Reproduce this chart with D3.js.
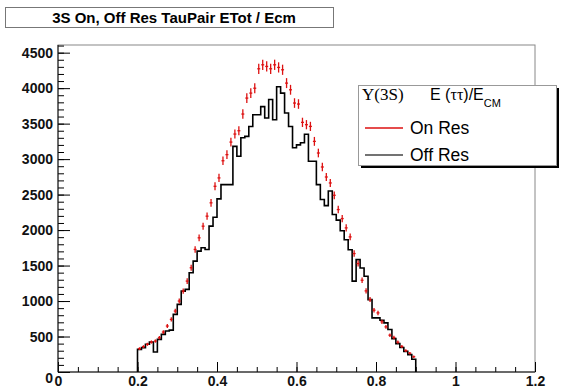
<!DOCTYPE html>
<html>
<head>
<meta charset="utf-8">
<script src="https://cdn.jsdelivr.net/npm/d3@7"></script>
<style>
  body { margin: 0; background: #fff; }
  svg { display: block; font-family: 'Liberation Sans', Arial, sans-serif; }
  .tick text { font-size: 14px; font-weight: bold; fill: #111; }
</style>
</head>
<body>
<svg id="chart" width="567" height="390"></svg>
<script>
// histogram binning: 70 bins of 0.01 from 0.2 to 0.9
const binStart = 0.2;
const binWidth = 0.01;
// Off resonance (black histogram)
const offRes = [319, 343, 390, 422, 282, 460, 530, 577, 590, 812,
  953, 1140, 1164, 1398, 1563, 1704, 1750, 1727, 2055, 2180,
  2440, 2640, 2640, 2640, 3180, 3040, 3300, 3320, 3460, 3625,
  3625, 3740, 3580, 3840, 3555, 4020, 3930, 3650, 3460, 3160,
  3200, 3230, 3350, 2970, 2970, 2640, 2430, 2345, 2550, 2220,
  2140, 1990, 1864, 1723, 1280, 1584, 1466, 1349, 1020, 763,
  763, 730, 692, 598, 470, 400, 345, 290, 245, 180];
// On resonance (red points with errors)
const onRes = [329, 357, 390, 422, 436, 483, 563, 648, 741, 859,
  1000, 1140, 1281, 1469, 1727, 1891, 2055, 2196, 2384, 2617,
  2735, 2977, 3063, 3240, 3353, 3400, 3635, 3860, 3930, 3999,
  4273, 4329, 4306, 4273, 4329, 4292, 4259, 4071, 3977, 3790,
  3776, 3518, 3485, 3461, 3250, 3086, 2889, 2748, 2664, 2490,
  2289, 2162, 2031, 1904, 1669, 1528, 1293, 1143, 1021, 871,
  833, 707, 636, 519, 486, 420, 360, 300, 265, 215];
const xTicks = [0, 0.2, 0.4, 0.6, 0.8, 1, 1.2];
const yTicks = [0, 500, 1000, 1500, 2000, 2500, 3000, 3500, 4000, 4500];

const svg = d3.select('#chart');
const frame = { left: 58, right: 535, top: 45, bottom: 372 };

const x = d3.scaleLinear().domain([0, 1.2]).range([frame.left, frame.right]);
const y = d3.scaleLinear().domain([0, 4608]).range([frame.bottom, frame.top]);

// title box
svg.append('rect')
  .attr('x', 5.5).attr('y', 7.5).attr('width', 328).attr('height', 20)
  .attr('fill', '#fff').attr('stroke', '#777').attr('stroke-width', 1);
svg.append('text')
  .attr('x', 174).attr('y', 23)
  .attr('text-anchor', 'middle')
  .style('font-size', '15px').style('font-weight', 'bold')
  .text('3S On, Off  Res TauPair ETot / Ecm');

// frame
svg.append('rect')
  .attr('x', frame.left).attr('y', frame.top)
  .attr('width', frame.right - frame.left).attr('height', frame.bottom - frame.top)
  .attr('fill', 'none').attr('stroke', '#888').attr('stroke-width', 1);

// minor ticks
svg.append('g')
  .attr('transform', `translate(${frame.left},0)`)
  .call(d3.axisLeft(y).tickValues(d3.range(0, 4601, 100)).tickSize(-6).tickFormat(''))
  .call(g => g.select('.domain').remove());
svg.append('g')
  .attr('transform', `translate(0,${frame.bottom})`)
  .call(d3.axisBottom(x).tickValues(d3.range(0, 24).map(i => i * 0.05)).tickSize(-5).tickFormat(''))
  .call(g => g.select('.domain').remove());

// major ticks + labels
const yAx = svg.append('g')
  .attr('transform', `translate(${frame.left},0)`)
  .call(d3.axisLeft(y).tickValues(yTicks).tickSize(-12).tickPadding(5).tickFormat(d3.format('d')));
yAx.select('.domain').remove();
yAx.selectAll('.tick text').filter(d => d === 0).attr('dy', '0.75em');

const xAx = svg.append('g')
  .attr('transform', `translate(0,${frame.bottom})`)
  .call(d3.axisBottom(x).tickValues(xTicks).tickSize(-10).tickPadding(4).tickFormat(d => d3.format('')(d)));
xAx.select('.domain').remove();

// axis lines
svg.append('line')
  .attr('x1', frame.left).attr('x2', frame.left).attr('y1', frame.top).attr('y2', frame.bottom)
  .attr('stroke', '#111');
svg.append('line')
  .attr('x1', frame.left).attr('x2', frame.right).attr('y1', frame.bottom).attr('y2', frame.bottom)
  .attr('stroke', '#111');

// off res histogram
const histPts = [[binStart, 0]];
offRes.forEach((v, i) => histPts.push([binStart + i * binWidth, v]));
histPts.push([binStart + offRes.length * binWidth, offRes[offRes.length - 1]]);
histPts.push([binStart + offRes.length * binWidth, 0]);

svg.append('path')
  .datum(histPts)
  .attr('fill', 'none')
  .attr('stroke', '#000')
  .attr('stroke-width', 1.6)
  .attr('d', d3.line()
    .x(d => x(d[0]))
    .y(d => y(d[1]))
    .curve(d3.curveStepAfter));

// on res points with error bars
const pts = svg.append('g')
  .attr('stroke', '#dd1111')
  .attr('stroke-width', 1.3);
onRes.forEach((v, i) => {
  const lo = binStart + i * binWidth;
  const err = Math.sqrt(v) * 1.1;
  pts.append('line')
    .attr('x1', x(lo + binWidth / 2)).attr('x2', x(lo + binWidth / 2))
    .attr('y1', y(v - err)).attr('y2', y(v + err));
  pts.append('line')
    .attr('x1', x(lo) + 0.5).attr('x2', x(lo + binWidth) - 0.5)
    .attr('y1', y(v)).attr('y2', y(v));
});

// legend
const leg = svg.append('g').attr('transform', 'translate(358,85)');
leg.append('rect')
  .attr('x', 3).attr('y', 3).attr('width', 198).attr('height', 80)
  .attr('fill', '#000');
leg.append('rect')
  .attr('x', 0.5).attr('y', 0.5).attr('width', 198).attr('height', 80)
  .attr('fill', '#fff').attr('stroke', '#999');
leg.append('text')
  .attr('x', 4).attr('y', 15)
  .style('font-family', "'Liberation Serif', 'DejaVu Serif', serif")
  .style('font-size', '17px')
  .text('\u03A5(3S)');
const hdr = leg.append('text')
  .attr('x', 72).attr('y', 15)
  .style('font-size', '16px');
hdr.append('tspan').text('E (');
hdr.append('tspan').style('font-family', "'Liberation Serif', serif").text('\u03C4\u03C4');
hdr.append('tspan').text(')/E');
hdr.append('tspan').attr('dy', 7).style('font-size', '11px').text('CM');

const items = [
  { label: 'On Res', color: '#dd1111' },
  { label: 'Off Res', color: '#444' }
];
items.forEach((it, i) => {
  const yy = 43 + i * 27;
  leg.append('line')
    .attr('x1', 7).attr('x2', 45).attr('y1', yy).attr('y2', yy)
    .attr('stroke', it.color).attr('stroke-width', 1.6);
  leg.append('text')
    .attr('x', 52).attr('y', yy + 6)
    .style('font-size', '17.5px')
    .text(it.label);
});
</script>
</body>
</html>
